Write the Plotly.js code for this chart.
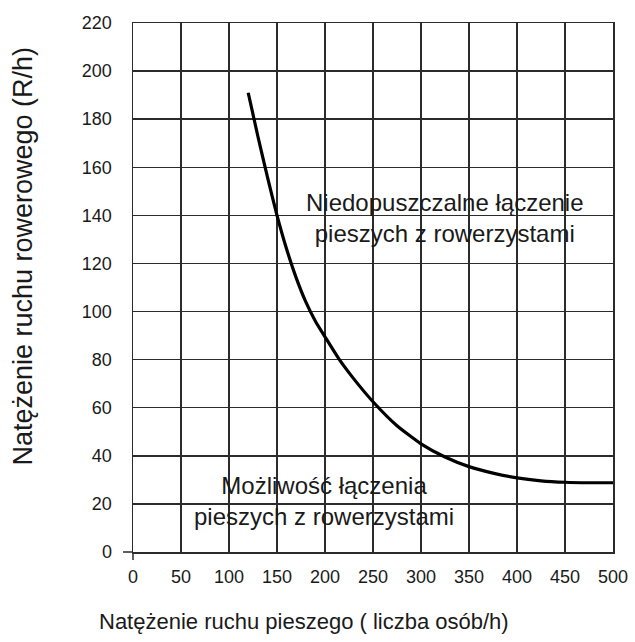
<!DOCTYPE html>
<html>
<head>
<meta charset="utf-8">
<script src="https://cdn.plot.ly/plotly-3.0.1.min.js"></script>
<style>
  html, body { margin: 0; padding: 0; background: #fff; }
  #chart { width: 635px; height: 642px; }
</style>
</head>
<body>
<div id="chart"></div>
<script>
// Curve
const pedestrianFlow = [120, 130, 140, 150, 160, 170, 180, 190, 200, 215, 230, 250, 275, 300, 325, 350, 375, 400, 425, 450, 475, 500];
const bicycleFlow    = [191, 173, 156, 140, 126, 114, 104, 96, 89.5, 80, 72, 62.5, 52.5, 45, 39.5, 35.5, 32.8, 30.8, 29.6, 29, 28.8, 28.8];

const xTicks = [0, 50, 100, 150, 200, 250, 300, 350, 400, 450, 500];
const yTicks = [0, 20, 40, 60, 80, 100, 120, 140, 160, 180, 200, 220];

const labelUpper = "Niedopuszczalne łączenie<br>pieszych z rowerzystami";
const labelLower = "Możliwość łączenia<br>pieszych z rowerzystami";
const xTitle = "Natężenie ruchu pieszego ( liczba osób/h)";
const yTitle = "Natężenie ruchu rowerowego (R/h)";

const FONT = "Liberation Sans, Arial, sans-serif";
const GRID = "#2b2b2b";

const trace = {
  x: pedestrianFlow,
  y: bicycleFlow,
  type: "scatter",
  mode: "lines",
  line: { color: "#000", width: 3.2, shape: "spline", smoothing: 0.5 },
  hoverinfo: "skip"
};

const layout = {
  width: 635,
  height: 642,
  margin: { l: 133, r: 22, t: 23, b: 90 },
  paper_bgcolor: "#fff",
  plot_bgcolor: "#fff",
  showlegend: false,
  font: { family: FONT, color: "#1a1a1a" },
  xaxis: {
    range: [0, 500],
    tickvals: xTicks,
    ticktext: xTicks.map(String),
    showgrid: true,
    gridcolor: GRID,
    gridwidth: 1.5,
    zeroline: false,
    showline: true,
    linecolor: GRID,
    linewidth: 1.5,
    mirror: true,
    ticks: "",
    ticklabelstandoff: 8,
    tickfont: { family: FONT, size: 18, color: "#1a1a1a" },
    fixedrange: true
  },
  yaxis: {
    range: [0, 220],
    tickvals: yTicks,
    ticktext: yTicks.map(String),
    showgrid: true,
    gridcolor: GRID,
    gridwidth: 1.5,
    zeroline: false,
    showline: true,
    linecolor: GRID,
    linewidth: 1.5,
    mirror: true,
    ticks: "",
    ticklabelstandoff: 16,
    tickfont: { family: FONT, size: 18, color: "#1a1a1a" },
    fixedrange: true
  },
  shapes: [
    { type: "line", xref: "paper", yref: "paper", x0: 0, x1: 0, y0: -0.0151, y1: 0,
      line: { color: GRID, width: 1.5 } },
    { type: "line", xref: "paper", yref: "paper", x0: -0.0208, x1: 0, y0: 0, y1: 0,
      line: { color: GRID, width: 1.5 } }
  ],
  annotations: [
    { text: labelUpper, x: 325, y: 139, xref: "x", yref: "y", showarrow: false,
      font: { family: FONT, size: 24, color: "#1a1a1a" }, align: "center" },
    { text: labelLower, x: 199, y: 21.2, xref: "x", yref: "y", showarrow: false,
      font: { family: FONT, size: 24, color: "#1a1a1a" }, align: "center" },
    { text: xTitle, x: 0.356, y: -0.132, xref: "paper", yref: "paper", showarrow: false,
      xanchor: "center", yanchor: "middle",
      font: { family: FONT, size: 22, color: "#1a1a1a" } },
    { text: yTitle, x: -0.231, y: 0.5586, xref: "paper", yref: "paper", showarrow: false,
      xanchor: "center", yanchor: "middle", textangle: -90,
      font: { family: FONT, size: 27, color: "#1a1a1a" } }
  ]
};

Plotly.newPlot("chart", [trace], layout, { displayModeBar: false, staticPlot: true });
</script>
</body>
</html>
